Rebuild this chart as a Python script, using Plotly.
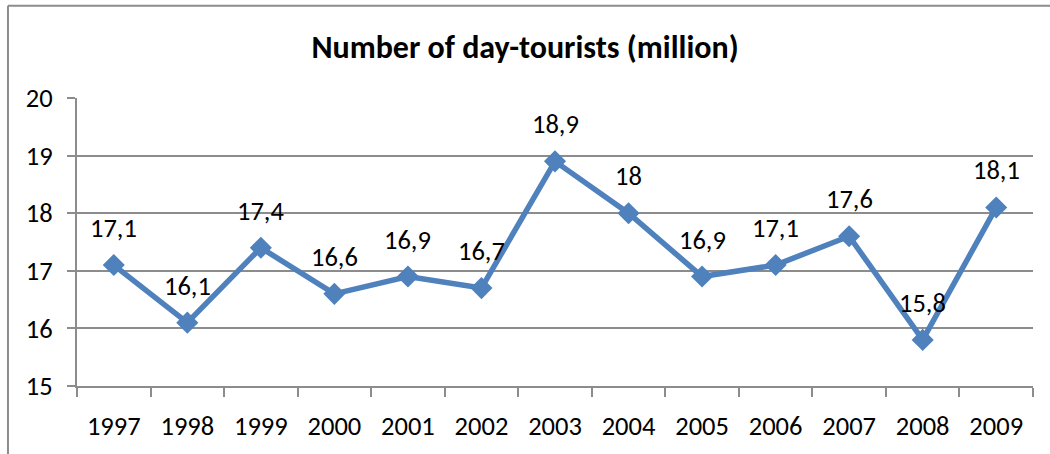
import plotly.graph_objects as go

years = ["1997", "1998", "1999", "2000", "2001", "2002", "2003",
         "2004", "2005", "2006", "2007", "2008", "2009"]
tourists = [17.1, 16.1, 17.4, 16.6, 16.9, 16.7, 18.9, 18.0, 16.9, 17.1, 17.6, 15.8, 18.1]
labels = ["17,1", "16,1", "17,4", "16,6", "16,9", "16,7", "18,9",
          "18", "16,9", "17,1", "17,6", "15,8", "18,1"]
y_ticks = [15, 16, 17, 18, 19, 20]

FONT = "Carlito, Calibri, Lato, sans-serif"
BLUE = "#4F81BD"
GRID = "#8C8C8C"
FS = 26.5

fig = go.Figure()
fig.add_trace(go.Scatter(
    x=years, y=tourists, mode="lines+markers",
    line=dict(color=BLUE, width=5.5),
    marker=dict(symbol="diamond", size=17, color=BLUE),
    hoverinfo="skip",
))

for i, (y, t) in enumerate(zip(tourists, labels)):
    fig.add_annotation(x=i, y=y, xref="x", yref="y", text=t, showarrow=False,
                       yshift=37, font=dict(family=FONT, size=FS, color="black"))

fig.update_layout(
    width=1050, height=454,
    margin=dict(l=77, r=17, t=98, b=66),
    paper_bgcolor="white", plot_bgcolor="white",
    showlegend=False,
    title=dict(text="<b>Number of day-tourists (million)</b>",
               x=0.5, xanchor="center", y=0.897, yanchor="middle",
               font=dict(family=FONT, size=32, color="black")),
    font=dict(family=FONT, size=FS, color="black"),
    xaxis=dict(type="category", range=[-0.5, 12.5],
               showline=True, linecolor=GRID, linewidth=2,
               ticks="outside", tickson="boundaries", ticklen=9,
               tickcolor=GRID, tickwidth=2, showgrid=False,
               ticklabelstandoff=15,
               tickfont=dict(family=FONT, size=FS, color="black")),
    yaxis=dict(range=[15, 20], tickvals=y_ticks,
               showline=True, linecolor=GRID, linewidth=2,
               ticks="outside", ticklen=8, tickcolor=GRID, tickwidth=2,
               showgrid=True, gridcolor=GRID, gridwidth=2,
               zeroline=False, ticklabelstandoff=9,
               tickfont=dict(family=FONT, size=FS, color="black")),
    shapes=[
        dict(type="line", xref="paper", yref="paper",
             x0=-0.0722, x1=1.05, y0=1.3207, y1=1.3207,
             line=dict(color=GRID, width=2)),
        dict(type="line", xref="paper", yref="paper",
             x0=-0.0722, x1=-0.0722, y0=1.3207, y1=-0.3,
             line=dict(color=GRID, width=2)),
    ],
)

fig.write_html("out.html")
